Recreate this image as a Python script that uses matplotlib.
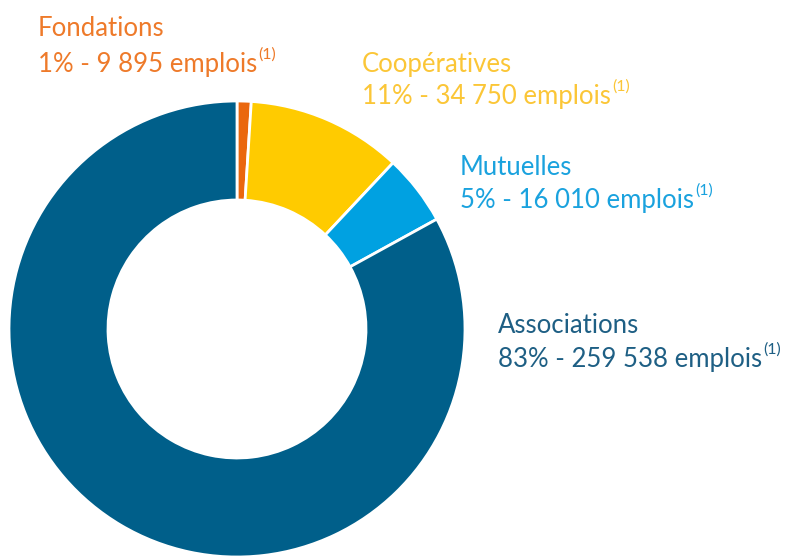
import matplotlib
matplotlib.use("Agg")
import matplotlib.pyplot as plt

# parts de l'emploi par famille
familles = ["Fondations", "Coopératives", "Mutuelles", "Associations"]
parts = [1, 11, 5, 83]
emplois = ["9 895", "34 750", "16 010", "259 538"]
couleurs = ["#EA670E", "#FFCB00", "#00A1E1", "#005F8A"]
couleurs_texte = ["#EE7A2A", "#FBC637", "#1AA2DE", "#1E5F84"]

plt.rcParams['font.family'] = ['Lato', 'DejaVu Sans']

W, H = 791, 560
fig = plt.figure(figsize=(W / 100, H / 100), dpi=100)

# anneau : centre (237, 329) px, rayon 228 px
cx, cy, r = 237, 329, 228
ax = fig.add_axes([(cx - r) / W, (H - cy - r) / H, 2 * r / W, 2 * r / H])
ax.pie(parts, colors=couleurs, startangle=90, counterclock=False, radius=1,
       wedgeprops=dict(width=99 / 228, edgecolor="white", linewidth=2))
ax.set_xlim(-1, 1)
ax.set_ylim(-1, 1)
ax.set_aspect("equal")
ax.axis("off")

# position des étiquettes (x gauche, ligne de base 1, ligne de base 2) en px
pos = [(38, 36, 72), (362, 72, 104), (460, 175, 208), (498, 333, 367)]

fig.canvas.draw()
renderer = fig.canvas.get_renderer()
for nom, p, e, c, (x, y1, y2) in zip(familles, parts, emplois, couleurs_texte, pos):
    fig.text(x / W, 1 - y1 / H, nom, color=c, fontsize=18.5, va="baseline")
    t = fig.text(x / W, 1 - y2 / H, f"{p}% - {e} emplois", color=c,
                 fontsize=18.5, va="baseline")
    bb = t.get_window_extent(renderer)
    fig.text(bb.x1 / W + 1 / W, 1 - (y2 - 13) / H, "(1)", color=c,
             fontsize=11.5, va="baseline")

fig.savefig("out.png", dpi=100)
